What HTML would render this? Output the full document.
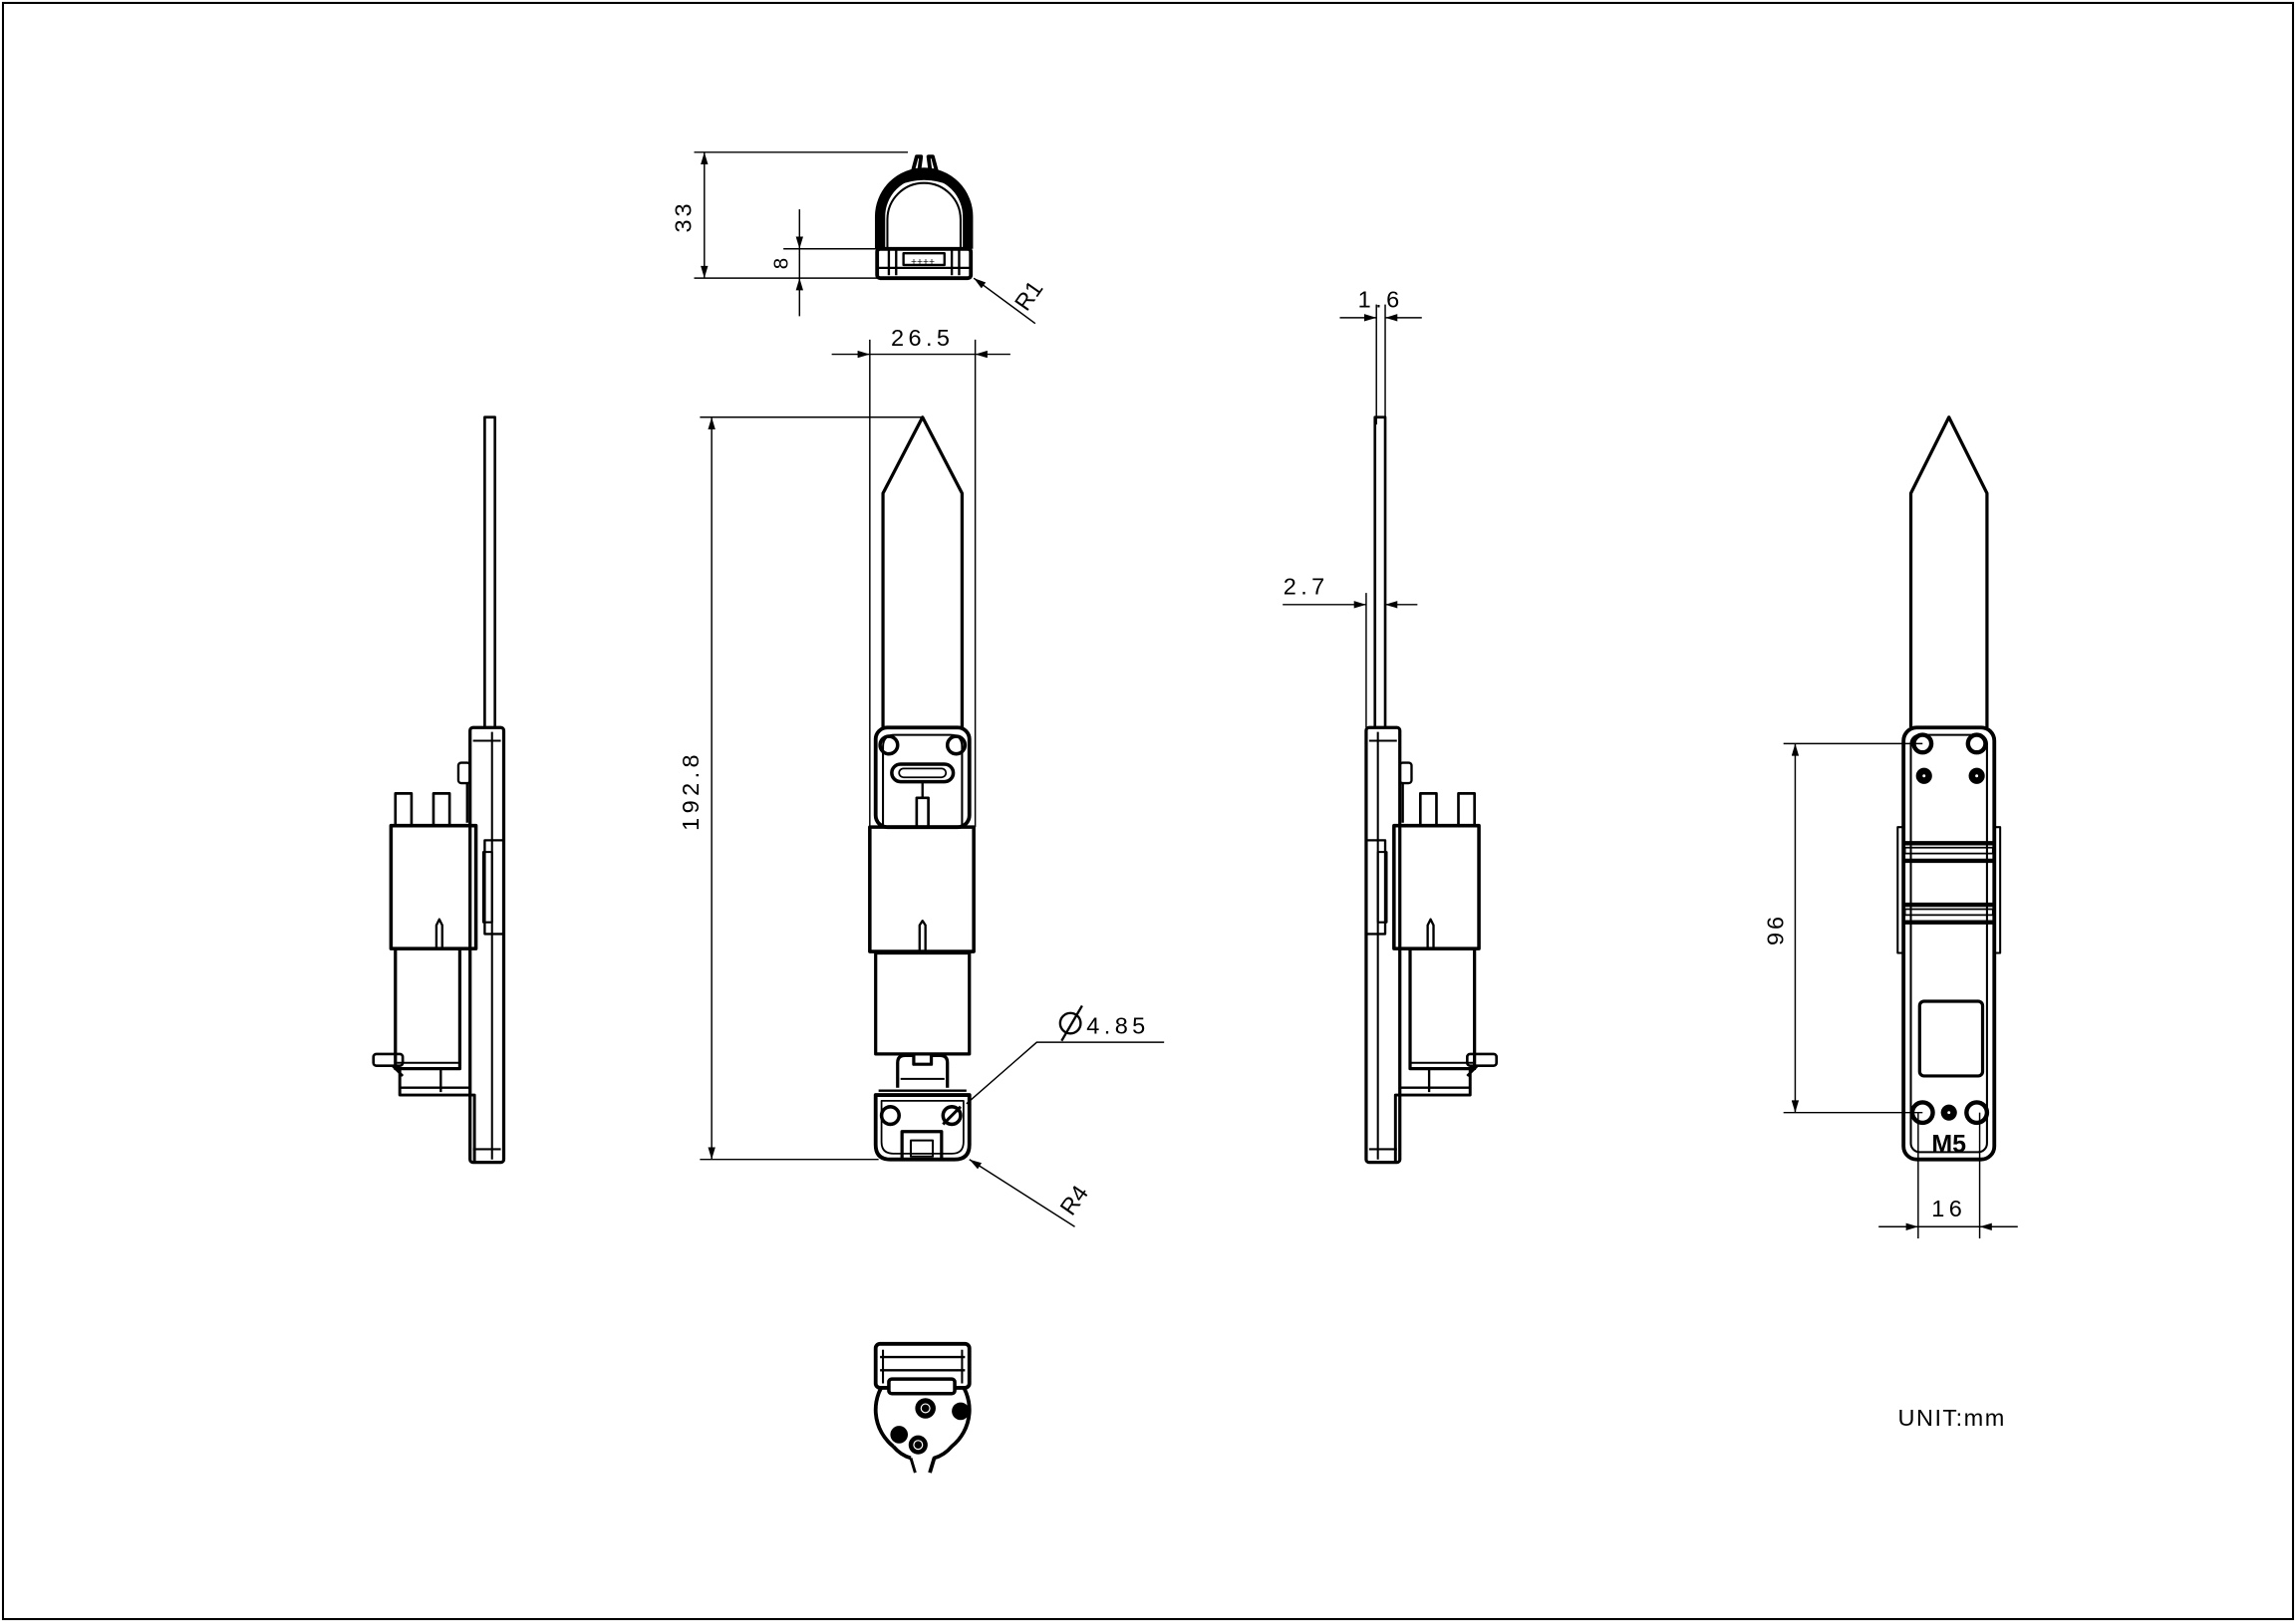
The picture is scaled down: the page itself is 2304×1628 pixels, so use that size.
<!DOCTYPE html>
<html><head><meta charset="utf-8"><style>
html,body{margin:0;padding:0;background:#fff;}
svg{display:block;}
text{font-family:"Liberation Sans Narrow","Liberation Sans",sans-serif;font-size:16px;fill:#000;font-weight:300;}
</style></head><body>
<svg width="2304" height="1628" viewBox="0 0 1568 1108" xmlns="http://www.w3.org/2000/svg">
<defs>
<marker id="a" viewBox="0 0 10 6" refX="10" refY="3" markerWidth="14" markerHeight="5" markerUnits="userSpaceOnUse" orient="auto-start-reverse"><path d="M0,0L10,3L0,6z" fill="#000"/></marker>
<g id="side" fill="none" stroke="#000" stroke-width="2.2" stroke-linejoin="round">
  <path d="M331,497V285H338V497" stroke-width="1.8"/>
  <rect x="321" y="497" width="23" height="297" rx="2"/>
  <line x1="336" y1="500" x2="336" y2="792" stroke-width="1.4"/>
  <line x1="323" y1="506" x2="342" y2="506" stroke-width="1.4"/>
  <line x1="323" y1="785" x2="342" y2="785" stroke-width="1.4"/>
  <path d="M344,574H331V638H344" stroke-width="1.6"/>
  <rect x="330" y="582" width="6" height="48" stroke-width="1.4"/>
  <rect x="313" y="521" width="8" height="14" rx="2" stroke-width="1.6"/>
  <path d="M319,535V562" stroke-width="1.6"/>
  <rect x="270" y="542" width="11" height="22" stroke-width="1.8"/>
  <rect x="296" y="542" width="11" height="22" stroke-width="1.8"/>
  <rect x="267" y="564" width="58" height="84" stroke-width="2.4"/>
  <path d="M298,648V632L300,628L302,632V648" stroke-width="1.6"/>
  <rect x="270" y="648" width="44" height="82" stroke-width="2.2"/>
  <line x1="271" y1="726" x2="313" y2="726" stroke-width="1.4"/>
  <line x1="301" y1="730" x2="301" y2="746" stroke-width="1.6"/>
  <path d="M273,730V748H324V794" stroke-width="2"/>
  <line x1="273" y1="743" x2="321" y2="743" stroke-width="1.6"/>
  <rect x="255" y="720" width="20" height="8" rx="2" stroke-width="1.8"/>
  <path d="M268,728L275,735" stroke-width="1.8"/>
</g>
</defs>

<rect x="2" y="2" width="1564" height="1104" fill="none" stroke="#000" stroke-width="1.4"/>

<!-- ===== Top view ===== -->
<g fill="none" stroke="#000" stroke-linejoin="round">
  <path d="M601,170V148A30,30 0 0 1 661,148V170" stroke-width="7"/>
  <path d="M606,170V150A25,25 0 0 1 656,150V170" stroke-width="1.4"/>
  <path d="M622,122L626,107L629,107L627,122M636,122L634,107L637,107L641,122" stroke-width="2.6"/>
  <path d="M612,126Q631,118 650,126" stroke-width="2"/>
  <rect x="599" y="170" width="64" height="20" rx="2" stroke-width="2.6"/>
  <line x1="599" y1="183" x2="663" y2="183" stroke-width="1.6"/>
  <line x1="607" y1="171" x2="607" y2="188" stroke-width="1.6"/>
  <line x1="612" y1="171" x2="612" y2="188" stroke-width="1.6"/>
  <line x1="650" y1="171" x2="650" y2="188" stroke-width="1.6"/>
  <line x1="655" y1="171" x2="655" y2="188" stroke-width="1.6"/>
  <rect x="617" y="173" width="28" height="8" stroke-width="1.6"/>
</g>
<text x="622" y="181" style="font-size:7px">++++</text>
<g stroke="#000" stroke-width="1" fill="none">
  <line x1="474" y1="104" x2="620" y2="104"/>
  <line x1="474" y1="190" x2="600" y2="190"/>
  <line x1="481" y1="104" x2="481" y2="190" marker-start="url(#a)" marker-end="url(#a)"/>
  <line x1="535" y1="170" x2="600" y2="170"/>
  <line x1="546" y1="143" x2="546" y2="170" marker-end="url(#a)"/>
  <line x1="546" y1="216" x2="546" y2="190" marker-end="url(#a)"/>
  <line x1="546" y1="170" x2="546" y2="190"/>
  <line x1="707" y1="221" x2="665" y2="190" marker-end="url(#a)"/>
</g>
<text transform="translate(472,148) rotate(-90)" text-anchor="middle" letter-spacing="2">33</text>
<text transform="translate(538,180) rotate(-90)" text-anchor="middle" style="font-size:14px">8</text>
<text transform="translate(707,205) rotate(-55)" text-anchor="middle">R1</text>

<!-- ===== Front view ===== -->
<g fill="none" stroke="#000" stroke-linejoin="round">
  <path d="M603,497V337L630,285L657,337V497" stroke-width="2.2"/>
  <rect x="598" y="497" width="64" height="68" rx="8" stroke-width="2.6"/>
  <path d="M603,565V510Q603,502 611,502H649Q657,502 657,510V565" stroke-width="1.4"/>
  <circle cx="607" cy="509" r="6" stroke-width="2.4"/>
  <circle cx="653" cy="509" r="6" stroke-width="2.4"/>
  <rect x="609" y="522" width="42" height="12" rx="6" stroke-width="2.4"/>
  <rect x="614" y="525" width="32" height="6" rx="3" stroke-width="1.2"/>
  <line x1="630" y1="534" x2="630" y2="545" stroke-width="1.6"/>
  <rect x="626" y="545" width="8" height="20" stroke-width="1.8"/>
  <rect x="594" y="565" width="71" height="85" stroke-width="2.4"/>
  <path d="M628,650V632L630,629L632,632V650" stroke-width="1.6"/>
  <rect x="598" y="651" width="64" height="69" stroke-width="2.2"/>
  <path d="M613,743V726Q613,721 618,721H624V727H636V721H642Q647,721 647,726V743" stroke-width="2.2"/>
  <line x1="615" y1="737" x2="645" y2="737" stroke-width="1.4"/>
  <line x1="598" y1="720" x2="662" y2="720" stroke-width="1.4"/>
  <line x1="600" y1="745" x2="660" y2="745" stroke-width="1.6"/>
  <path d="M598,748H662V782Q662,792 652,792H608Q598,792 598,782Z" stroke-width="2.6"/>
  <path d="M602,752H658V780Q658,788 650,788H610Q602,788 602,780Z" stroke-width="1.2"/>
  <circle cx="608" cy="762" r="6" stroke-width="2.4"/>
  <circle cx="650" cy="762" r="6" stroke-width="2.4"/>
  <line x1="644" y1="768" x2="656" y2="756" stroke-width="2"/>
  <rect x="616" y="773" width="27" height="19" stroke-width="2.2"/>
  <rect x="622" y="779" width="15" height="11" stroke-width="1.4"/>
</g>
<g stroke="#000" stroke-width="1" fill="none">
  <line x1="594" y1="232" x2="594" y2="565"/>
  <line x1="666" y1="232" x2="666" y2="565"/>
  <line x1="568" y1="242" x2="594" y2="242" marker-end="url(#a)"/>
  <line x1="690" y1="242" x2="666" y2="242" marker-end="url(#a)"/>
  <line x1="594" y1="242" x2="666" y2="242"/>
  <line x1="478" y1="285" x2="630" y2="285"/>
  <line x1="478" y1="792" x2="600" y2="792"/>
  <line x1="486" y1="285" x2="486" y2="792" marker-start="url(#a)" marker-end="url(#a)"/>
  <path d="M795,712H708L660,754"/>
  <line x1="734" y1="838" x2="662" y2="792" marker-end="url(#a)"/>
</g>
<text x="630" y="236" text-anchor="middle" letter-spacing="3">26.5</text>
<text transform="translate(477,540) rotate(-90)" text-anchor="middle" letter-spacing="3">192.8</text>
<g fill="none" stroke="#000" stroke-width="1.6"><circle cx="731" cy="699" r="7"/><line x1="725" y1="711" x2="739" y2="687"/></g>
<text x="742" y="706" letter-spacing="3">4.85</text>
<text transform="translate(738,823) rotate(-55)" text-anchor="middle">R4</text>

<!-- ===== Side views ===== -->
<use href="#side"/>
<use href="#side" transform="translate(1277,0) scale(-1,1)"/>
<g stroke="#000" stroke-width="1" fill="none">
  <line x1="940" y1="208" x2="940" y2="290"/>
  <line x1="946" y1="208" x2="946" y2="290"/>
  <line x1="915" y1="217" x2="940" y2="217" marker-end="url(#a)"/>
  <line x1="971" y1="217" x2="946" y2="217" marker-end="url(#a)"/>
  <line x1="933" y1="405" x2="933" y2="497"/>
  <line x1="876" y1="413" x2="933" y2="413" marker-end="url(#a)"/>
  <line x1="968" y1="413" x2="946" y2="413" marker-end="url(#a)"/>
</g>
<text x="943" y="210" text-anchor="middle" letter-spacing="3">1.6</text>
<text x="892" y="406" text-anchor="middle" letter-spacing="3">2.7</text>

<!-- ===== Back view ===== -->
<g fill="none" stroke="#000" stroke-linejoin="round">
  <path d="M1305,497V337L1331,285L1357,337V497" stroke-width="2.2"/>
  <rect x="1300" y="497" width="62" height="295" rx="9" stroke-width="2.6"/>
  <rect x="1305" y="502" width="52" height="285" rx="6" stroke-width="1.4"/>
  <rect x="1296" y="565" width="4" height="86" stroke-width="1.4"/>
  <rect x="1362" y="565" width="4" height="86" stroke-width="1.4"/>
  <circle cx="1313" cy="508" r="6" stroke-width="3"/>
  <circle cx="1350" cy="508" r="6" stroke-width="3"/>
  <rect x="1301" y="579" width="60" height="4" stroke-width="1.2"/>
  <line x1="1301" y1="588" x2="1361" y2="588" stroke-width="3"/>
  <rect x="1301" y="621" width="60" height="4" stroke-width="1.2"/>
  <line x1="1301" y1="630" x2="1361" y2="630" stroke-width="3"/>
  <line x1="1301" y1="576" x2="1361" y2="576" stroke-width="3"/>
  <line x1="1301" y1="618" x2="1361" y2="618" stroke-width="3"/>
  <rect x="1311" y="684" width="43" height="51" rx="3" stroke-width="2.2"/>
  <circle cx="1313" cy="760" r="7" stroke-width="3"/>
  <circle cx="1350" cy="760" r="7" stroke-width="3"/>
</g>
<g fill="#000">
  <circle cx="1314" cy="530" r="5.5"/><circle cx="1350" cy="530" r="5.5"/>
  <circle cx="1331" cy="760" r="5.5"/>
</g>
<g fill="#fff"><circle cx="1314" cy="530" r="1"/><circle cx="1350" cy="530" r="1"/><circle cx="1331" cy="760" r="1"/></g>
<text x="1331" y="787" text-anchor="middle" font-weight="bold" style="font-size:17px;font-weight:bold">M5</text>
<g stroke="#000" stroke-width="1" fill="none">
  <line x1="1218" y1="508" x2="1313" y2="508"/>
  <line x1="1218" y1="760" x2="1313" y2="760"/>
  <line x1="1226" y1="508" x2="1226" y2="760" marker-start="url(#a)" marker-end="url(#a)"/>
  <line x1="1310" y1="760" x2="1310" y2="846"/>
  <line x1="1352" y1="760" x2="1352" y2="846"/>
  <line x1="1283" y1="838" x2="1310" y2="838" marker-end="url(#a)"/>
  <line x1="1378" y1="838" x2="1352" y2="838" marker-end="url(#a)"/>
  <line x1="1310" y1="838" x2="1352" y2="838"/>
</g>
<text transform="translate(1218,635) rotate(-90)" text-anchor="middle" letter-spacing="2">96</text>
<text x="1331" y="831" text-anchor="middle" letter-spacing="3">16</text>

<!-- ===== Bottom view ===== -->
<g fill="none" stroke="#000" stroke-linejoin="round">
  <path d="M610,988A32,32 0 1 1 650,988Q645,994 638,996L635,1006M622,996Q615,994 610,988" stroke-width="2.6"/>
  <path d="M622,996L625,1006" stroke-width="2"/>
  <rect x="598" y="918" width="64" height="30" rx="3" stroke-width="2.6" fill="#fff"/>
  <line x1="601" y1="927" x2="659" y2="927" stroke-width="1.6"/>
  <line x1="601" y1="936" x2="659" y2="936" stroke-width="1.6"/>
  <line x1="603" y1="922" x2="603" y2="945" stroke-width="1.4"/>
  <line x1="657" y1="922" x2="657" y2="945" stroke-width="1.4"/>
  <rect x="607" y="942" width="45" height="10" rx="2" stroke-width="2.4" fill="#fff"/>
</g>
<g fill="#000">
  <circle cx="632" cy="962" r="7"/><circle cx="656" cy="964" r="6"/>
  <circle cx="614" cy="980" r="6"/><circle cx="627" cy="987" r="6.5"/>
</g>
<g fill="none" stroke="#fff" stroke-width="0.8"><circle cx="632" cy="962" r="3"/><circle cx="627" cy="987" r="3"/></g>

<text x="1333" y="974" text-anchor="middle" letter-spacing="1">UNIT:mm</text>
</svg>
</body></html>
